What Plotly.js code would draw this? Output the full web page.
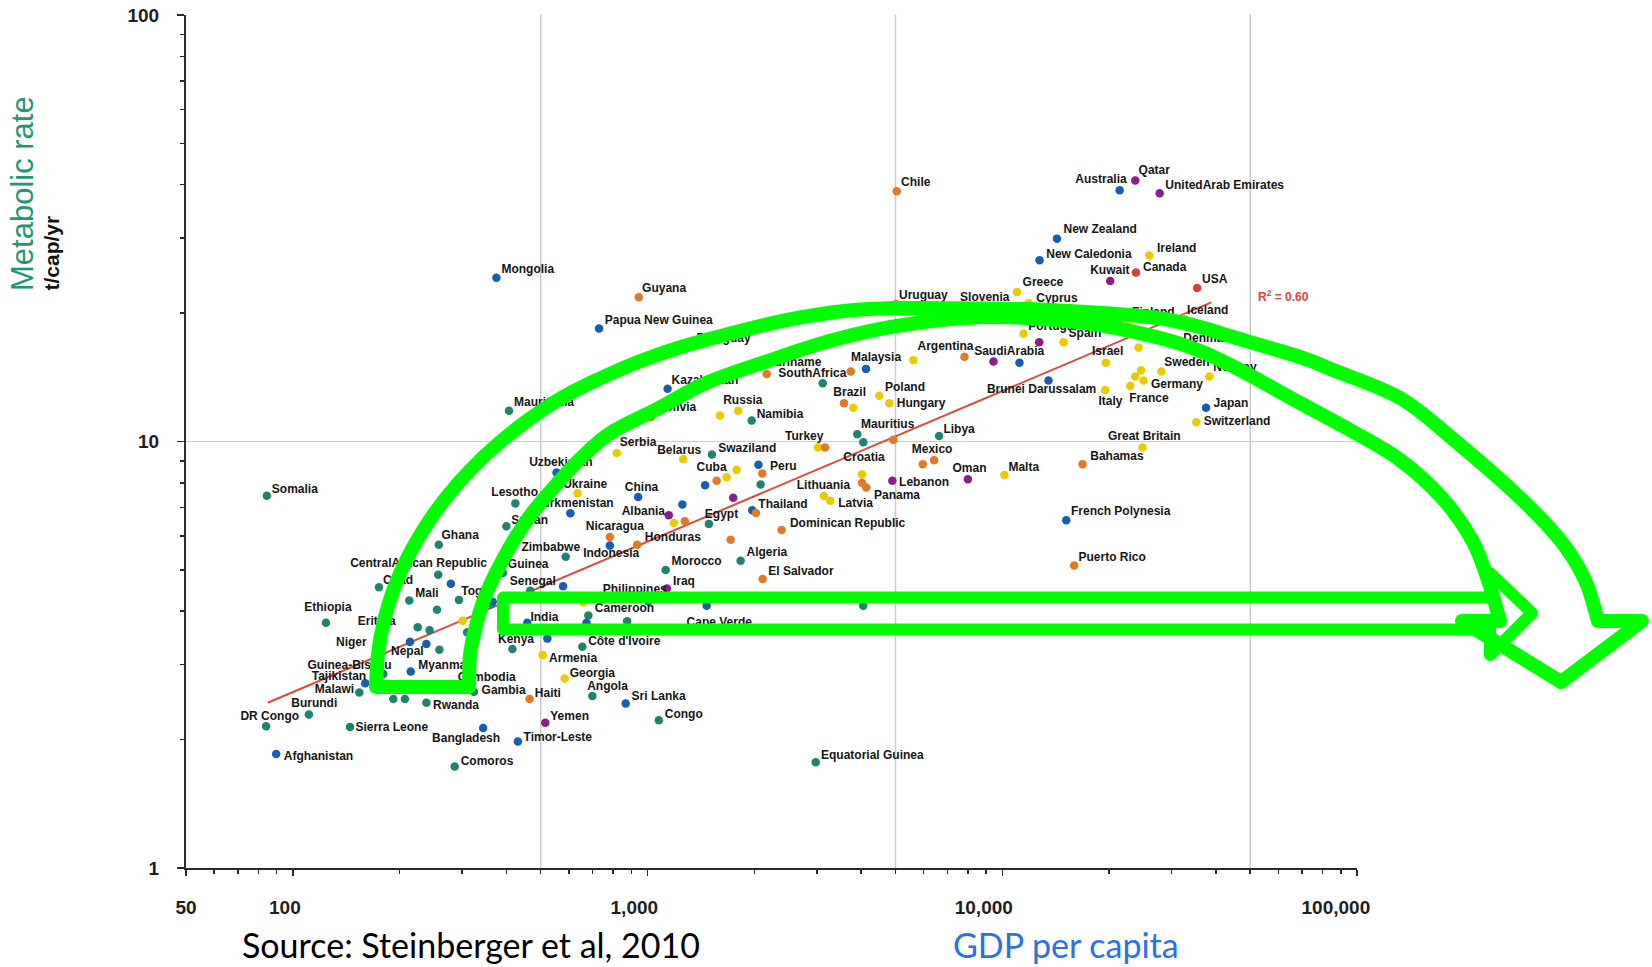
<!DOCTYPE html>
<html>
<head>
<meta charset="utf-8">
<script src="https://cdn.plot.ly/plotly-3.0.1.min.js"></script>
<style>
  html, body { margin: 0; padding: 0; background: #ffffff; }
  #chart { width: 1652px; height: 967px; }
</style>
</head>
<body>
<div id="chart"></div>
<script>
// GDP per capita (US$) and metabolic rate (t/cap/yr) by country, grouped by region.
// An empty name marks a country that is plotted without a label.
const africaNames = ['Somalia','Lesotho','Sudan','Ghana','Zimbabwe','CentralAfrican Republic','Guinea','Senegal','Chad','Togo','Mali','Ethiopia','Eritrea','Niger','Guinea-Bissau','Malawi','Rwanda','Burundi','DR Congo','Sierra Leone','Comoros','Gambia','Kenya',"Côte d'Ivoire",'Cameroon','Cape Verde','Angola','Congo','Morocco','Algeria','Egypt','Swaziland','Namibia','SouthAfrica','Mauritius','Libya','Mauritania','Equatorial Guinea','','','','','','','','','','',''];
const africaGdp   = [84.5,424,400,258,588,257,391,467,175,294,213,124,225,172,180,154,238,111,84.1,145,286,324,416,655,681,1266,699,1076,1125,1830,1489,1519,1966,3118,3903,6637,407,2979,255,243,259,192,207,2084,4058,876,4055,363,310];
const africaRate  = [7.46,7.16,6.33,5.73,5.37,4.87,4.92,4.47,4.55,4.25,4.24,3.76,3.67,3.25,2.85,2.58,2.44,2.29,2.15,2.14,1.73,2.59,3.26,3.30,3.91,3.62,2.53,2.22,5.00,5.25,6.41,9.32,11.2,13.7,10.4,10.3,11.8,1.77,4.03,3.61,3.25,2.49,2.49,7.93,9.96,3.79,4.12,4.16,3.57];

const asiaNames = ['Uzbekistan','Turkmenistan','Mongolia','Papua New Guinea','Kazakhstan','China','Nepal','Myanmar','Tajikistan','Afghanistan','Bangladesh','Timor-Leste','India','Cambodia','Sri Lanka','Philippines','Indonesia','Thailand','Malaysia','Brunei Darussalam','French Polynesia','Japan','Australia','New Zealand','New Caledonia','','','','','','','','','','','',''];
const asiaGdp   = [554,606,375,730,1139,941,214,215,160,89.8,344,431,458,280,868,1005,783,1974,4130,13500,15150,37530,21420,14260,12740,279,238,578,522,673,1468,1254,1453,2054,11180,329,366];
const asiaRate  = [8.46,6.79,24.2,18.4,13.3,7.41,3.39,2.89,2.71,1.85,2.13,1.98,3.76,2.66,2.43,4.22,5.70,6.90,14.8,13.9,6.54,12.0,38.8,29.9,26.6,4.64,3.35,4.58,3.45,3.76,4.12,7.12,7.90,8.82,15.3,3.46,4.21];

const europeNames = ['Ukraine','Serbia','Belarus','Russia','Albania','Armenia','Georgia','Turkey','Lithuania','Latvia','Croatia','Poland','Hungary','Malta','Greece','Slovenia','Cyprus','Portugal','Spain','Israel','Italy','France','Germany','Sweden','Norway','Switzerland','Great Britain','Ireland','Finland','Iceland','Denmark','','','','','','','','','',''];
const europeGdp   = [635,819,1260,1801,1187,506,584,3024,3139,3275,4024,4502,4805,10140,11000,7457,11860,11480,14890,19580,19510,22950,25020,28080,38350,35250,24860,25970,22800,32610,31770,301,659,1600,1671,1783,3804,5615,24230,24610,23710];
const europeRate  = [7.56,9.40,9.09,11.8,6.44,3.16,2.78,9.68,7.45,7.26,8.38,12.8,12.3,8.35,22.4,20.8,21.1,17.9,17.1,15.3,13.2,13.5,13.9,14.6,14.2,11.1,9.68,27.3,19.2,19.4,16.7,3.80,4.20,11.5,8.25,8.58,12.0,15.5,16.6,14.7,14.2];

const latamNames = ['Guyana','Paraguay','Bolivia','Suriname','Brazil','Argentina','Chile','Uruguay','Cuba','Peru','Nicaragua','Honduras','Dominican Republic','El Salvador','Haiti','Mexico','Panama','Bahamas','Puerto Rico','','','','','','','',''];
const latamGdp   = [945,1342,1022,2167,3580,7825,5042,5018,1566,2106,783,935,2388,2111,465,6424,4135,16840,15950,1274,2021,1715,3165,4932,4024,5970,3740];
const latamRate  = [21.8,16.7,11.4,14.4,12.3,15.8,38.6,21.0,8.09,8.41,5.97,5.73,6.20,4.76,2.49,9.04,7.80,8.85,5.12,6.50,6.80,5.88,9.68,10.1,8.00,8.85,14.6];

const middleEastNames = ['Yemen','Iraq','Lebanon','Oman','SaudiArabia','Kuwait','Qatar','UnitedArab Emirates','','',''];
const middleEastGdp   = [515,1134,4900,8000,9446,20150,23710,27770,1148,1744,12710];
const middleEastRate  = [2.19,4.52,8.09,8.16,15.4,23.8,40.9,38.2,6.72,7.38,17.1];

const northAmericaNames = ['USA','Canada'];
const northAmericaGdp   = [35410,23820];
const northAmericaRate  = [22.9,24.9];

// Fitted trend (log-log) end points and its goodness of fit
const trendGdp  = [85, 38850];
const trendRate = [2.44, 21.2];
const trendR2 = '0.60';

// Axis ticks (trailing no-break spaces nudge the longer labels left of their tick)
const NB = n => '\u00a0'.repeat(n);
const xTickVals = [50, 100, 1000, 10000, 100000];
const xTickText = ['50', '100' + NB(3), '1,000' + NB(5), '10,000' + NB(7), '100,000' + NB(8)];
const yTickVals = [1, 10, 100];
const yTickText = ['1', '10', '100'];
const xGridVals = [500, 5000, 50000];

// ---------- styling ----------
const regionColor = {
  africa: '#1e846d', asia: '#165fae', europe: '#e9cb00',
  latam: '#e17a26', middleEast: '#8c1d8a', northAmerica: '#df3d3a'
};

// label placement relative to its dot, in screen pixels: [left edge dx, vertical centre dy]
const labelOffset = {
 'Somalia':[5,-6.7],'Lesotho':[-24,-11.6],'Sudan':[5,-6.6],'Ghana':[2.7,-10],'Zimbabwe':[-44.3,-10],
 'CentralAfrican Republic':[-88,-12],'Guinea':[5,-9],'Senegal':[-20.5,-9.5],'Chad':[4,-8],'Togo':[2.4,-9.6],
 'Mali':[6,-8],'Ethiopia':[-21.7,-16.3],'Eritrea':[-60,-6],'Niger':[-40.3,-8.3],'Guinea-Bissau':[-75.8,-9.8],
 'Malawi':[-44.5,-3.3],'Rwanda':[6.6,2],'Burundi':[-17.6,-11.7],'DR Congo':[-25.7,-10.6],'Sierra Leone':[5.4,0],
 'Comoros':[6,-5.6],'Gambia':[7.7,-2],'Kenya':[-14.4,-10.3],"Côte d'Ivoire":[5.8,-6.3],'Cameroon':[6.5,-7.4],
 'Cape Verde':[2.7,-8.3],'Angola':[-5.2,-10.2],'Congo':[6,-6.7],'Morocco':[5.9,-9.1],'Algeria':[5.9,-9.1],
 'Egypt':[-4,-10],'Swaziland':[6.3,-7],'Namibia':[5,-6.7],'SouthAfrica':[-44.4,-10],'Mauritius':[3.7,-10.2],
 'Libya':[4.3,-7.7],'Mauritania':[5,-9.4],'Equatorial Guinea':[5.3,-7.3],
 'Uzbekistan':[-27.4,-11],'Turkmenistan':[-34.5,-11],'Mongolia':[5,-9],'Papua New Guinea':[5.7,-9],'Kazakhstan':[4,-9.3],
 'China':[-13.3,-10.3],'Nepal':[-19,8.4],'Myanmar':[7.5,-6.8],'Tajikistan':[-53.5,-7.4],'Afghanistan':[7.6,2],
 'Bangladesh':[-51,9.7],'Timor-Leste':[5.7,-4.3],'India':[3.2,-6.4],'Cambodia':[6.3,-9.7],'Sri Lanka':[5.9,-7.7],
 'Philippines':[-45.5,-12.8],'Indonesia':[-26.7,7.3],'Thailand':[6,-6.9],'Malaysia':[-15,-12.5],'Brunei Darussalam':[-61.6,8.3],
 'French Polynesia':[4.7,-9.3],'Japan':[7.6,-5],'Australia':[-44.3,-11.7],'New Zealand':[6.6,-10],'New Caledonia':[6.7,-6.7],
 'Ukraine':[-14.4,-9.9],'Serbia':[3,-11.4],'Belarus':[-26,-9.3],'Russia':[-15,-11.3],'Albania':[-52.3,-12.3],
 'Armenia':[6.5,3.2],'Georgia':[5,-6],'Turkey':[-33,-12.3],'Lithuania':[-27,-11],'Latvia':[8,1.6],
 'Croatia':[-18.7,-17.7],'Poland':[5.7,-9.4],'Hungary':[7.4,-0.7],'Malta':[4,-8.4],'Greece':[5.6,-10],
 'Slovenia':[3,-9.3],'Cyprus':[7.7,-5.7],'Portugal':[4.7,-8],'Spain':[5,-9.5],'Israel':[-13.8,-12],
 'Italy':[-6.7,11],'France':[-1,11.3],'Germany':[7.4,3.3],'Sweden':[3,-9.6],'Norway':[4,-9.7],
 'Switzerland':[7.3,-1.7],'Great Britain':[-34.6,-12.3],'Ireland':[7.7,-7.7],'Finland':[2.7,-8.7],'Iceland':[2.7,-9],'Denmark':[3,-9],
 'Guyana':[3.3,-9.4],'Paraguay':[3.7,-8.7],'Bolivia':[6,-10.3],'Suriname':[0,-12.3],'Brazil':[-10.7,-11.7],
 'Argentina':[-47,-11],'Chile':[4.3,-9.4],'Uruguay':[3,-9.3],'Cuba':[-20,-14.4],'Peru':[7.7,-7.8],
 'Nicaragua':[-24,-11.3],'Honduras':[7.7,-8.2],'Dominican Republic':[8.3,-7],'El Salvador':[5.6,-8.3],'Haiti':[5.3,-6],
 'Mexico':[-22.3,-11],'Panama':[7.8,6.7],'Bahamas':[7.7,-8.3],'Puerto Rico':[4.3,-9],
 'Yemen':[5,-6.8],'Iraq':[6,-7.8],'Lebanon':[6.7,1],'Oman':[-15.4,-11],'SaudiArabia':[-19.3,-10.7],
 'Kuwait':[-20,-11],'Qatar':[3.3,-11],'UnitedArab Emirates':[5.7,-8.3],
 'USA':[5,-9.3],'Canada':[7,-5.6]
};

// page geometry
const W = 1652, H = 967;
const M = { l: 186, r: 295, t: 15, b: 99 };
const plotW = W - M.l - M.r, plotH = H - M.t - M.b;
const xRange = [Math.log10(50), 5], yRange = [0, 2];
const pxPerDecX = plotW / (xRange[1] - xRange[0]);
const pxPerDecY = plotH / (yRange[1] - yRange[0]);
const px2paperX = px => (px - M.l) / plotW;
const px2paperY = py => 1 - (py - M.t) / plotH;

// minor tick positions of the log axes
const minorX = [], minorY = [];
for (let e = 1; e <= 4; e++) for (let m = 2; m <= 9; m++) { const v = m * Math.pow(10, e); if (v > 50) minorX.push(v); }
for (let e = 0; e <= 1; e++) for (let m = 2; m <= 9; m++) minorY.push(m * Math.pow(10, e));

const groups = [
  { names: africaNames, gdp: africaGdp, rate: africaRate, color: regionColor.africa },
  { names: asiaNames, gdp: asiaGdp, rate: asiaRate, color: regionColor.asia },
  { names: europeNames, gdp: europeGdp, rate: europeRate, color: regionColor.europe },
  { names: latamNames, gdp: latamGdp, rate: latamRate, color: regionColor.latam },
  { names: middleEastNames, gdp: middleEastGdp, rate: middleEastRate, color: regionColor.middleEast },
  { names: northAmericaNames, gdp: northAmericaGdp, rate: northAmericaRate, color: regionColor.northAmerica }
];

const traces = [];
traces.push({
  type: 'scatter', mode: 'lines', x: trendGdp, y: trendRate,
  line: { color: '#dc4a40', width: 2 }, hoverinfo: 'skip', showlegend: false
});
groups.forEach(g => {
  traces.push({
    type: 'scatter', mode: 'markers', x: g.gdp, y: g.rate, text: g.names,
    marker: { size: 8.5, color: g.color, line: { width: 0 } },
    hoverinfo: 'text+x+y', showlegend: false, cliponaxis: false
  });
});

// country labels, placed from each dot by its pixel offset
const lx = [], ly = [], lt = [];
groups.forEach(g => {
  g.names.forEach((n, i) => {
    if (!n) return;
    const off = labelOffset[n] || [4, -9];
    lx.push(g.gdp[i] * Math.pow(10, off[0] / pxPerDecX));
    ly.push(g.rate[i] * Math.pow(10, -(off[1] + 1.3) / pxPerDecY));
    lt.push(n);
  });
});
traces.push({
  type: 'scatter', mode: 'text', x: lx, y: ly, text: lt,
  textposition: 'middle right', cliponaxis: false,
  textfont: { family: 'Liberation Sans, Arial, sans-serif', size: 12, color: '#151515', weight: 700 },
  hoverinfo: 'skip', showlegend: false
});

// ---------- green overlay arrows (screen pixels) ----------
const curveOuter = [[376,687],[378,654],[384,621],[393.8,588.8],[407.6,557.4],[425.3,526.7],[446.2,497.5],[470.8,469.5],[498.6,443.3],[529.5,419],[563.1,397],[599,379],[638,362],[678,348],[721,336],[764,325],[809,316],[854,310],[900,308],[987,308.5],[1050,310],[1150,317],[1200,327],[1233,337],[1300,357],[1333,370],[1400,398],[1454,440],[1517,495],[1560,540],[1585,580],[1598,621]];
const curveHead = [[1642,621],[1561,682],[1462,621]];
const curveInner = [[1500,621],[1488,580],[1472,540],[1442,498],[1400,460],[1350,430],[1300,403],[1240,370],[1200,351],[1160,338],[1085,323],[987,317],[903,325],[833,340],[765,362],[706,383],[659,408],[612,432],[582,457],[556,485],[533,512],[514,540],[500,565],[490,585],[482,605],[475,630],[470,655],[469,687]];
const straightArrow = [[503,597.5],[1490,597.5],[1490,573],[1532,613],[1490,655],[1490,629.5],[503,629.5]];

const P = p => [px2paperX(p[0]).toFixed(5), px2paperY(p[1]).toFixed(5)].join(',');
function smoothSegment(pts) {
  // Catmull-Rom spline through the points, as cubic Bezier commands
  let s = '';
  for (let i = 0; i < pts.length - 1; i++) {
    const p0 = pts[Math.max(i - 1, 0)], p1 = pts[i], p2 = pts[i + 1], p3 = pts[Math.min(i + 2, pts.length - 1)];
    const c1 = [p1[0] + (p2[0] - p0[0]) / 6, p1[1] + (p2[1] - p0[1]) / 6];
    const c2 = [p2[0] - (p3[0] - p1[0]) / 6, p2[1] - (p3[1] - p1[1]) / 6];
    s += ' C' + P(c1) + ' ' + P(c2) + ' ' + P(p2);
  }
  return s;
}
let curvedPath = 'M' + P(curveOuter[0]) + smoothSegment(curveOuter);
curveHead.forEach(p => { curvedPath += ' L' + P(p); });
curvedPath += ' L' + P(curveInner[0]) + smoothSegment(curveInner) + ' Z';
let straightPath = 'M' + straightArrow.map(P).join(' L') + ' Z';

const shapes = xGridVals.map(v => ({
  type: 'line', xref: 'x', yref: 'paper', x0: v, x1: v, y0: 0, y1: 1,
  line: { color: '#cbcbcb', width: 1.5 }, layer: 'below'
}));
shapes.push({ type: 'path', xref: 'paper', yref: 'paper', path: straightPath,
  line: { color: '#00ff00', width: 12 }, fillcolor: 'rgba(0,0,0,0)', layer: 'above' });
shapes.push({ type: 'path', xref: 'paper', yref: 'paper', path: curvedPath,
  line: { color: '#00ff00', width: 14 }, fillcolor: 'rgba(0,0,0,0)', layer: 'above' });

const tickFont = { family: 'Liberation Sans Narrow, Arial Narrow, Liberation Sans, sans-serif', size: 19, color: '#1e1e1e', weight: 700 };

const layout = {
  width: W, height: H,
  margin: { l: M.l, r: M.r, t: M.t, b: M.b, pad: 0 },
  paper_bgcolor: '#ffffff', plot_bgcolor: '#ffffff',
  showlegend: false,
  xaxis: {
    type: 'log', range: xRange, showgrid: false, zeroline: false,
    showline: true, linecolor: '#2a2a2a', linewidth: 2,
    tickmode: 'array', tickvals: xTickVals, ticktext: xTickText,
    ticks: 'outside', ticklen: 6, tickwidth: 1.5, tickcolor: '#2a2a2a',
    tickfont: tickFont, ticklabelstandoff: 15,
    minor: { tickvals: minorX, ticks: 'outside', ticklen: 4, tickwidth: 1.5, tickcolor: '#2a2a2a', showgrid: false },
    fixedrange: true
  },
  yaxis: {
    type: 'log', range: yRange, showgrid: true, gridcolor: '#cbcbcb', gridwidth: 1.5, zeroline: false,
    showline: true, linecolor: '#2a2a2a', linewidth: 2,
    tickmode: 'array', tickvals: yTickVals, ticktext: yTickText,
    ticks: 'outside', ticklen: 7, tickwidth: 1.5, tickcolor: '#2a2a2a',
    tickfont: tickFont, ticklabelstandoff: 14,
    minor: { tickvals: minorY, ticks: 'outside', ticklen: 4, tickwidth: 1.5, tickcolor: '#2a2a2a', showgrid: false },
    fixedrange: true
  },
  shapes: shapes,
  annotations: [
    { xref: 'paper', yref: 'paper', x: px2paperX(22.5), y: px2paperY(293), xanchor: 'center', yanchor: 'bottom',
      textangle: -90, showarrow: false, text: 'Metabolic rate',
      font: { family: 'Liberation Sans, Arial, sans-serif', size: 31, color: '#1e9678' } },
    { xref: 'paper', yref: 'paper', x: px2paperX(51), y: px2paperY(293), xanchor: 'center', yanchor: 'bottom',
      textangle: -90, showarrow: false, text: 't/cap/yr',
      font: { family: 'Liberation Sans, Arial, sans-serif', size: 21, color: '#111111', weight: 700 } },
    { xref: 'paper', yref: 'paper', x: px2paperX(1256), y: px2paperY(296), xanchor: 'left', yanchor: 'middle',
      showarrow: false, text: 'R<sup>2</sup> = ' + trendR2,
      font: { family: 'Liberation Sans, Arial, sans-serif', size: 12, color: '#e0433c', weight: 700 } },
    { xref: 'paper', yref: 'paper', x: px2paperX(240), y: px2paperY(944), xanchor: 'left', yanchor: 'middle',
      showarrow: false, text: 'Source: Steinberger et al, 2010',
      font: { family: 'Lato, Open Sans, sans-serif', size: 34, color: '#000000' } },
    { xref: 'paper', yref: 'paper', x: px2paperX(951), y: px2paperY(944), xanchor: 'left', yanchor: 'middle',
      showarrow: false, text: 'GDP per capita',
      font: { family: 'Lato, Open Sans, sans-serif', size: 34, color: '#2a72df' } }
  ]
};

Plotly.newPlot('chart', traces, layout, { staticPlot: true }).then(() => {
  document.querySelectorAll('.shapelayer path').forEach(p => {
    p.style.strokeLinejoin = 'round';
    p.style.strokeLinecap = 'round';
  });
});
</script>
</body>
</html>
